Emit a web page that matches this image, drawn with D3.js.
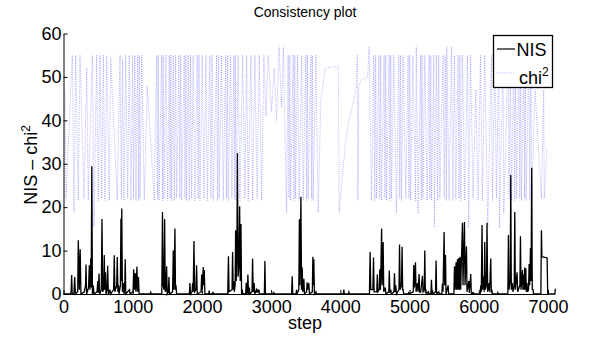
<!DOCTYPE html>
<html>
<head>
<meta charset="utf-8">
<script src="https://cdn.jsdelivr.net/npm/d3@7"></script>
<style>
  body { margin: 0; background: #fff; }
  text { font-family: "Liberation Sans", Arial, sans-serif; fill: #000; }
</style>
</head>
<body>
<div class="chart"></div>
<script>
const WIDTH = 590, HEIGHT = 338;
const X_TICKS = [0, 1000, 2000, 3000, 4000, 5000, 6000, 7000];
const Y_TICKS = [0, 10, 20, 30, 40, 50, 60];
const SERIES = ["NIS", "chi"];

// NIS per step, [step, value] (spikes with zero runs between)
const NIS = [
  [0,0],[100,0],[110,0.5],[118,4.4],[126,0],[150,0],[162,3.9],[172,0],[205,0.5],[214,12.4],[228,1],[241,10.3],[252,0],
  [300,0.5],[318,2],[325,6.8],[334,0],[362,1.5],[373,6.6],[382,1],[393,8.2],[400,1.5],[409,29.4],[418,0],[430,2],[440,0],
  [485,0.5],[494,3],[503,0.3],[513,4.7],[522,0],[546,1],[556,17.3],[566,0.5],[580,1],[589,9],[597,1],[606,5],[614,0],
  [628,1],[638,6.5],[648,0],[671,1],[680,0],[724,1],[734,8.9],[742,0.5],[768,2],[777,8.5],[786,0.5],[794,2],[803,0],
  [822,2],[830,17.4],[836,3],[842,19.7],[851,0.5],[866,2.5],[874,0],[884,1],[892,8],[900,0],[953,1],[962,0],
  [1005,0.5],[1014,5.7],[1024,1],[1037,4.8],[1046,0.5],[1061,6.3],[1070,0.5],[1083,3.9],[1092,0],[1250,0],[1260,0.4],[1270,0],
  [1420,0],[1430,18.9],[1440,2],[1452,1],[1461,17.3],[1470,0.5],[1482,1],[1490,6.4],[1498,0],[1515,0.5],[1523,3.9],[1531,0],
  [1576,0.5],[1586,10],[1596,1],[1610,15.1],[1618,1],[1625,2],[1634,0],[1818,0],[1827,2.5],[1836,0],[1858,0.5],[1866,2.5],
  [1874,0.5],[1885,12.2],[1895,0.5],[1914,1],[1923,6.6],[1932,0],[1988,0.5],[1996,4.5],[2006,1],[2019,6.2],[2027,2],[2034,5.5],
  [2043,0],[2098,0],[2105,0.8],[2112,0],[2153,0],[2160,0.5],[2168,0],[2373,0],[2383,8.7],[2392,0.5],[2435,1],[2443,9.7],
  [2452,1],[2460,3],[2468,0.5],[2480,2],[2487,14.7],[2496,3],[2505,10],[2513,32.4],[2522,4],[2533,6],[2545,20.2],[2553,3],
  [2564,16.1],[2573,0],[2582,1],[2590,0],[2632,0],[2640,2.6],[2648,0],[2656,0.5],[2664,4.5],[2673,0],[2686,1.5],[2694,0],
  [2724,0.5],[2732,8.2],[2741,0.5],[2755,2.5],[2763,0],[2790,1],[2797,0.3],[2804,1],[2812,0.3],[2823,1],[2831,0],
  [2902,0],[2910,7.6],[2918,0],[3028,0],[3035,0.5],[3042,0],[3296,0],[3304,4.1],[3312,0],[3360,0],[3367,1],[3374,0],
  [3400,1],[3408,17.2],[3416,2],[3430,22.4],[3439,1],[3449,6.1],[3457,0.5],[3473,3.5],[3481,0],[3512,0.5],[3520,2.7],
  [3530,1],[3545,2.5],[3553,0],[3595,0.5],[3603,8.6],[3610,2],[3617,8],[3625,0],[3646,0.5],[3654,0],[4043,0],[4050,1],
  [4057,0],[4116,0],[4123,0.4],[4130,0],[4420,0],[4430,9.7],[4440,1],[4470,1],[4479,8.4],[4488,0.5],[4526,0.5],[4534,4.5],
  [4542,0.5],[4562,1],[4570,5.7],[4580,1],[4596,15.1],[4604,2],[4618,12],[4627,0.5],[4650,1.5],[4658,0],[4700,0.5],
  [4707,5.4],[4716,0.3],[4729,1],[4737,0],[4774,0.5],[4782,4.8],[4790,0.5],[4801,2],[4810,0],[4847,1],[4855,11.4],
  [4864,1],[4883,2],[4892,10.9],[4900,1],[4907,1],[4915,0],[4982,0],[4989,0.5],[4996,0],[5053,0.5],[5061,6.7],[5070,1.5],
  [5085,7.3],[5094,0.5],[5114,2.5],[5122,0.5],[5138,4.6],[5145,0.3],[5152,1],[5160,0.3],[5186,4.2],[5195,0.5],[5212,1],
  [5220,10],[5228,0.3],[5235,1],[5243,0],[5273,0.5],[5280,0],[5308,0],[5316,3.3],[5324,0],[5335,0.5],[5342,0],[5375,0.5],
  [5383,7.7],[5391,0],[5422,0.5],[5430,0],[5467,0],[5475,2.4],[5483,0.5],[5499,14.3],[5507,2],[5519,9],[5527,0],[5557,2],
  [5565,0],[5640,0],[5649,6.4],[5658,1],[5672,7.3],[5680,1],[5692,8],[5700,1],[5711,8.3],[5719,1],[5730,8.6],[5738,1],
  [5764,16.4],[5772,2],[5793,16.6],[5801,2],[5822,11],[5830,0.5],[5855,3],[5863,0.3],[5884,4.6],[5892,0],[5910,0],
  [5917,0.5],[5925,0],[6020,0],[6028,2],[6036,0.5],[6047,15.9],[6056,1],[6072,4],[6079,0.5],[6086,12],[6095,1],[6110,2],
  [6119,16.4],[6128,0.5],[6148,2.5],[6156,0.5],[6173,8.2],[6181,0.3],[6188,1],[6196,0],[6267,0],[6274,0.3],[6281,0],
  [6420,0],[6428,13.6],[6436,1],[6454,3],[6462,27.4],[6470,1],[6486,2.5],[6494,0.5],[6512,2],[6520,18.9],[6528,1],
  [6553,5],[6561,0.5],[6594,2],[6602,13.3],[6610,1],[6631,5.5],[6638,1],[6650,4.5],[6657,1],[6664,6.1],[6671,1],
  [6679,5.9],[6687,0.5],[6697,2.5],[6705,0.5],[6719,1],[6727,6.9],[6735,2],[6747,10.6],[6755,3],[6765,29.1],[6773,1],
  [6784,1],[6792,0],[6897,0],[6905,14.7],[6912,8.6],[6940,8.5],[6987,8.3],[6996,0],[7100,0],[7106,1.2]
];

// chi^2 bound per step, [step, value]
const CHI2 = [
  [22,47],[36,22],[127,55],[152,18.7],[176,55],[214,21.5],[238,55],[296,22],[335,52],[358,21.5],[416,55],[440,15.5],
  [479,55],[503,21.5],[527,55],[552,22],[575,55],[599,21.5],[624,55],[661,21.5],[682,54.5],[777,21.5],
  [816,55],[838,22],[852,54],[873,21.5],[898,55],[927,22],[950,55],[975,21.5],[999,55],[1012,22],[1030,55],[1047,21.5],
  [1071,55],[1085,21.5],[1095,55],[1105,22],[1129,55],[1167,21.5],[1210,48],
  [1311,21.5],[1346,55],[1358,22],[1368,55],[1379,21.5],[1418,55],[1430,21.5],[1440,55],[1451,22],[1480,55],[1505,21.5],
  [1528,55],[1540,22],[1551,55],[1562,21.5],[1586,55],[1600,21.5],[1618,55],[1635,22],[1668,55],[1680,22],[1694,55],
  [1707,21.5],[1744,55],[1756,22],[1768,55],[1779,21.5],[1802,55],[1818,21.5],[1835,55],[1851,22],[1874,55],[1899,21.5],
  [1932,55],[1945,22],[1958,55],[1971,21.5],[2004,55],[2029,22],[2058,55],[2077,21.5],[2115,55],[2130,22],[2147,55],
  [2163,21.5],[2212,55],[2225,21.5],[2238,55],[2250,22],[2284,55],[2308,21.5],[2342,55],[2355,22],[2368,55],[2380,21.5],
  [2414,55],[2433,22],[2462,55],[2472,22],[2482,55],[2491,21.5],[2524,55],[2549,21.5],[2588,55],[2621,22],[2645,55],
  [2669,21.5],[2708,55],[2732,21.5],[2765,55],[2798,22],[2827,55],[2862,21.5],[2895,55],[2924,41],[2957,55],[3006,42],
  [3044,52],[3079,40],[3113,57],[3151,43],[3177,57],[3223,18.7],[3246,55],[3258,22],[3270,55],[3281,21.5],[3318,55],
  [3330,21.5],[3342,55],[3353,22],[3382,55],[3405,21.5],[3440,55],[3463,21.5],[3502,55],[3513,21.5],[3524,55],[3535,22],
  [3574,55],[3585,22],[3596,55],[3607,21.5],[3646,55],[3679,18.7],[3718,44.6],[3783,52],[3892,52.4],
  [3971,52.4],[3983,18.7],[4032,27.8],[4079,35.4],[4127,40],[4176,43.4],[4224,46.9],[4245,55],[4253,21.5],[4267,47.8],
  [4296,49.3],[4393,50],[4416,57],[4450,21.5],[4484,55],[4497,21.5],[4510,55],[4523,22],[4556,55],[4569,22],[4582,55],
  [4595,21.5],[4632,55],[4644,22],[4656,55],[4667,21.5],[4705,55],[4716,21.5],[4728,55],[4739,22],[4772,55],[4811,18.7],
  [4845,55],[4858,22],[4871,55],[4884,21.5],[4907,55],[4946,22],[4979,55],[4991,22],[5003,55],[5014,21.5],[5047,55],
  [5085,21.5],[5097,57],[5123,18.6],[5158,55],[5169,21.5],[5180,55],[5191,22],[5220,55],[5253,21.5],[5282,55],[5294,22],
  [5306,55],[5317,21.5],[5350,55],[5357,15.4],[5389,55],[5405,21.5],[5421,55],[5437,22],[5484,55],[5500,22],[5516,55],
  [5533,21.5],[5538,57],[5571,21.5],[5606,57],[5626,21.5],[5647,55],[5668,22],[5701,55],[5714,22],[5727,55],[5740,21.5],
  [5764,55],[5798,21.5],[5837,55],[5855,15.2],[5880,55],[5917,22],[5957,47],[5990,21.5],[6024,55],[6053,21.5],[6086,55],
  [6130,15.4],[6183,55],[6197,21.5],[6231,55],[6255,22],[6289,55],[6298,15.2],[6351,55],[6361,18.6],[6423,55],[6439,22],
  [6456,55],[6472,21.5],[6505,55],[6518,21.5],[6531,55],[6544,22],[6579,55],[6592,22],[6604,55],[6617,21.5],[6650,55],
  [6661,22],[6672,55],[6683,21.5],[6724,55],[6738,21.5],[6751,55],[6765,22],[6813,47],[6905,22],[6938,47],[6946,22],
  [6986,33.6]
];

const svg = d3.select(".chart").append("svg").attr("width", WIDTH).attr("height", HEIGHT);

const x = d3.scaleLinear().domain([0, 7000]).range([63.5, 548]);
const y = d3.scaleLinear().domain([0, 60]).range([294, 33.5]);
const line = d3.line().x(d => x(d[0])).y(d => y(d[1]));

// series
svg.append("path").datum(CHI2).attr("d", line)
  .attr("fill", "none").attr("stroke", "#2a2aff").attr("stroke-width", 0.6)
  .attr("stroke-dasharray", "1,1.3").attr("opacity", 0.6);
svg.append("path").datum(NIS).attr("d", line)
  .attr("fill", "none").attr("stroke", "#000").attr("stroke-width", 1.3);

// axes, matlab style ticks pointing inwards
let bottomAxis = d3.axisBottom(x).tickValues(X_TICKS).tickFormat(d3.format("d"))
  .tickSizeInner(-4).tickSizeOuter(0).tickPadding(6);
let xAxis = svg.append("g").attr("transform", "translate(0,294)").call(bottomAxis);
let leftAxis = d3.axisLeft(y).tickValues(Y_TICKS).tickFormat(d3.format("d"))
  .tickSizeInner(-4).tickSizeOuter(0).tickPadding(2);
let yAxis = svg.append("g").attr("transform", "translate(63.5,0)").call(leftAxis);
for (let ax of [xAxis, yAxis]) {
  ax.selectAll("text").attr("font-size", 18).attr("font-family", "Liberation Sans, Arial, sans-serif");
  ax.selectAll("path, line").attr("stroke", "#000");
}

// labels
svg.append("text").attr("x", 305).attr("y", 17).attr("text-anchor", "middle")
  .attr("font-size", 14).text("Consistency plot");
svg.append("text").attr("x", 305).attr("y", 329).attr("text-anchor", "middle")
  .attr("font-size", 18).text("step");
let yl = svg.append("text").attr("transform", "translate(36.5,165) rotate(-90)")
  .attr("text-anchor", "middle").attr("font-size", 18);
yl.append("tspan").text("NIS \u2013 chi");
yl.append("tspan").attr("font-size", 12).attr("dy", -7).text("2");

// legend
let lg = svg.append("g");
lg.append("rect").attr("x", 493.5).attr("y", 35.5).attr("width", 59).attr("height", 52)
  .attr("fill", "#fff").attr("stroke", "#000").attr("stroke-width", 1.3);
lg.append("line").attr("x1", 497).attr("x2", 515).attr("y1", 49).attr("y2", 49)
  .attr("stroke", "#000").attr("stroke-width", 1.2);
lg.append("line").attr("x1", 497).attr("x2", 515).attr("y1", 73).attr("y2", 73)
  .attr("stroke", "#2a2aff").attr("stroke-width", 0.6).attr("stroke-dasharray", "1,1.3").attr("opacity", 0.6);
lg.append("text").attr("x", 516.5).attr("y", 55.5).attr("font-size", 18).text(SERIES[0]);
let lt = lg.append("text").attr("x", 519).attr("y", 83.5).attr("font-size", 18);
lt.append("tspan").text(SERIES[1]);
lt.append("tspan").attr("font-size", 12).attr("dy", -8).text("2");
</script>
</body>
</html>
